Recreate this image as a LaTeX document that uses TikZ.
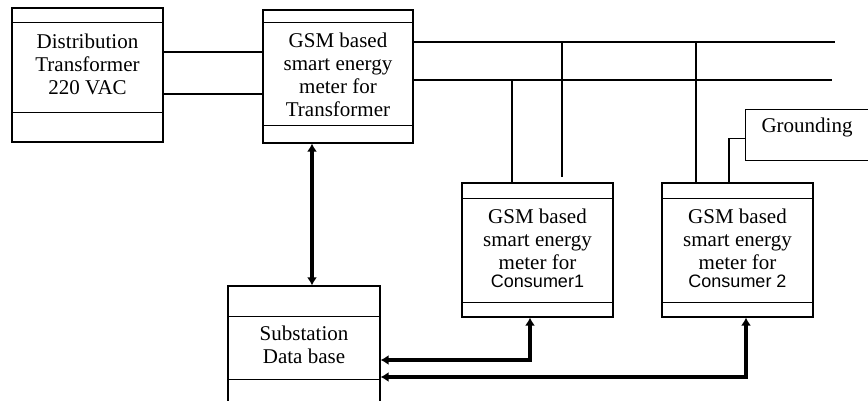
\documentclass[tikz,border=0pt]{standalone}
\usepackage{fontspec}
\setmainfont{Liberation Serif}
\setsansfont{Liberation Sans}
\usetikzlibrary{arrows.meta}
\begin{document}
\begin{tikzpicture}[x=1pt,y=-1pt,
  box/.style={draw,line width=1.1pt,inner sep=0pt,minimum width=151pt,minimum height=134pt},
  txt/.style={align=center,inner sep=0pt,font=\fontsize{21}{23}\selectfont},
  wire/.style={line width=1.1pt},
  bus/.style={line width=2.9pt},
  link/.style={line width=3.4pt,arrows={Latex[length=8pt,width=10pt]-Latex[length=8pt,width=10pt]}}]
\useasboundingbox (0,0) rectangle (868,401);
\clip (0,0) rectangle (868,401);
% boxes
\node[box] (dt) at (87.5,75) {};
\node[box,minimum width=150pt,minimum height=133pt] (gsmT) at (338,76.5) {};
\node[box,minimum width=152pt] (sub) at (304,353) {};
\node[box] (c1) at (537.5,250) {};
\node[box] (c2) at (737.5,250) {};
\node[box,anchor=north west,minimum width=160pt,minimum height=51pt] (gr) at (745,109) {};
\foreach \b/\t/\u in {dt/15/30, gsmT/13/18, sub/31/41, c1/16/15, c2/16/15} {
  \draw[wire] ([yshift=-\t pt]\b.north west) -- ([yshift=-\t pt]\b.north east);
  \draw[wire] ([yshift=\u pt]\b.south west) -- ([yshift=\u pt]\b.south east);
}
% texts
\node[txt] (dtText) at (87.5,64) {Distribution\\Transformer\\220 VAC};
\node[txt] (gsmTText) at (338,75) {GSM based\\smart energy\\meter for\\Transformer};
\node[txt] (subText) at (304,345) {Substation\\Data base};
\node[txt] (c1Text) at (537.5,248) {GSM based\\smart energy\\meter for\\[-5pt]{\sffamily\fontsize{18}{18}\selectfont Consumer1}};
\node[txt] (c2Text) at (737.5,248) {GSM based\\smart energy\\meter for\\[-5pt]{\sffamily\fontsize{18}{18}\selectfont Consumer 2}};
\node[txt] (grText) at (807,127) {Grounding};
% transformer to meter
\coordinate (dA) at ([yshift=23pt]dt.east);
\coordinate (dB) at ([yshift=-19pt]dt.east);
\draw[wire] (dA) -- (dA -| gsmT.west);
\draw[wire] (dB) -- (dB -| gsmT.west);
% bus lines
\coordinate (bus1) at (835,42);
\coordinate (bus2) at (832,80);
\draw[bus] (bus1 -| gsmT.east) -- (bus1);
\draw[bus] (bus2 -| gsmT.east) -- (bus2);
\coordinate (t1) at ([xshift=-25.5pt]c1.north);
\coordinate (t2) at (562,177);
\coordinate (t3) at ([xshift=-41.5pt]c2.north);
\coordinate (g1) at ([xshift=-8.5pt]c2.north);
\draw[wire] (t1) -- (t1 |- bus2);
\draw[wire] (t2) -- (t2 |- bus1);
\draw[wire] (t3) -- (t3 |- bus1);
\draw[wire] (g1) |- ([yshift=-3.5pt]gr.west);
% data links
\coordinate (a0) at ([xshift=-26pt]gsmT.south);
\draw[link] (a0) -- (a0 |- sub.north);
\draw[link] ([xshift=-7.5pt]c1.south) |- ([yshift=-7pt]sub.east);
\draw[link] ([xshift=8.5pt]c2.south) |- ([yshift=-24pt]sub.east);
\end{tikzpicture}
\end{document}
